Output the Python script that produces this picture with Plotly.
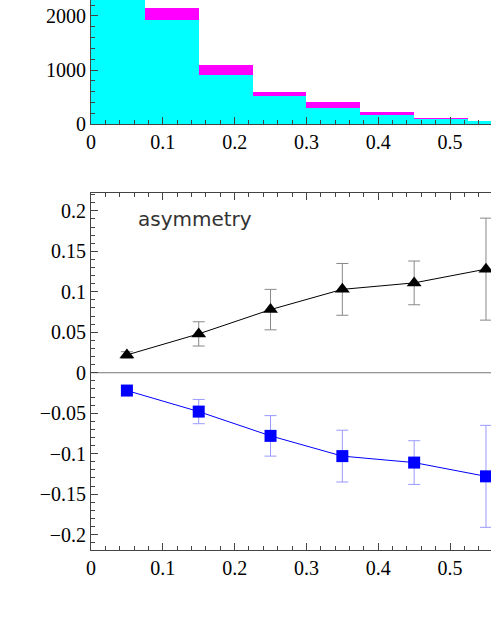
import plotly.graph_objects as go

# histogram (bin width 0.075)
bin_centers = [0.0375, 0.1125, 0.1875, 0.2625, 0.3375, 0.4125, 0.4875, 0.5625]
cyan_counts = [2600, 1935, 905, 520, 295, 170, 100, 50]
total_counts = [2600, 2140, 1085, 590, 400, 220, 120, 50]

# asymmetry points
x_pts = [0.05, 0.15, 0.25, 0.35, 0.45, 0.55]
asym_pos = [0.022, 0.048, 0.078, 0.103, 0.111, 0.128]
asym_err = [0.004, 0.015, 0.025, 0.032, 0.027, 0.063]
asym_neg = [-v for v in asym_pos]

fig = go.Figure()
fig.add_trace(go.Bar(x=bin_centers, y=total_counts, width=0.075, marker=dict(color="#ff00ff", line_width=0),
                     xaxis="x", yaxis="y"))
fig.add_trace(go.Bar(x=bin_centers, y=cyan_counts, width=0.075, marker=dict(color="#00ffff", line_width=0),
                     xaxis="x", yaxis="y"))

fig.add_trace(go.Scatter(x=x_pts, y=asym_pos, mode="lines+markers",
                         line=dict(color="black", width=1),
                         marker=dict(symbol="triangle-up", size=13, color="black"),
                         error_y=dict(array=asym_err, color="#888888", thickness=1, width=6),
                         xaxis="x2", yaxis="y2"))
fig.add_trace(go.Scatter(x=x_pts, y=asym_neg, mode="lines+markers",
                         line=dict(color="blue", width=1),
                         marker=dict(symbol="square", size=12, color="blue"),
                         error_y=dict(array=asym_err, color="#9999ff", thickness=1, width=6),
                         xaxis="x2", yaxis="y2"))

fig.add_shape(type="line", x0=0, x1=1, y0=0, y1=0, xref="x2 domain", yref="y2",
              line=dict(color="#777777", width=1), layer="below")

font = dict(family="Liberation Serif", size=20, color="black")
ax = dict(showline=True, linecolor="#444444", linewidth=1, ticks="inside", ticklen=7,
          tickcolor="#444444", showgrid=False, zeroline=False, tickfont=font, automargin=False)

fig.update_layout(
    width=491, height=635, margin=dict(l=91, r=0, t=0, b=85),
    paper_bgcolor="white", plot_bgcolor="white", showlegend=False,
    barmode="overlay", bargap=0,
    xaxis=dict(ax, range=[0, 0.557], dtick=0.1, anchor="y", minor=dict(ticks="inside", ticklen=4, dtick=0.02, tickcolor="#444444")),
    yaxis=dict(ax, range=[0, 2296], dtick=1000, domain=[0.7745, 1], anchor="x", minor=dict(ticks="inside", ticklen=4, dtick=200, tickcolor="#444444")),
    xaxis2=dict(ax, range=[0, 0.557], dtick=0.1, anchor="y2", mirror="ticks", minor=dict(ticks="inside", ticklen=4, dtick=0.02, tickcolor="#444444")),
    yaxis2=dict(ax, range=[-0.219, 0.222], dtick=0.05, domain=[0, 0.649], anchor="x2", mirror=True, minor=dict(ticks="inside", ticklen=4, dtick=0.01, tickcolor="#444444")),
    annotations=[dict(text="asymmetry", x=0.062, y=0.19, xref="x2", yref="y2", xanchor="left", showarrow=False,
                      font=dict(family="DejaVu Sans", size=20, color="#333333"))],
)

fig.write_html("out.html", config={"displayModeBar": False},
               post_script="document.body.style.margin='0';document.body.style.overflow='hidden';")
